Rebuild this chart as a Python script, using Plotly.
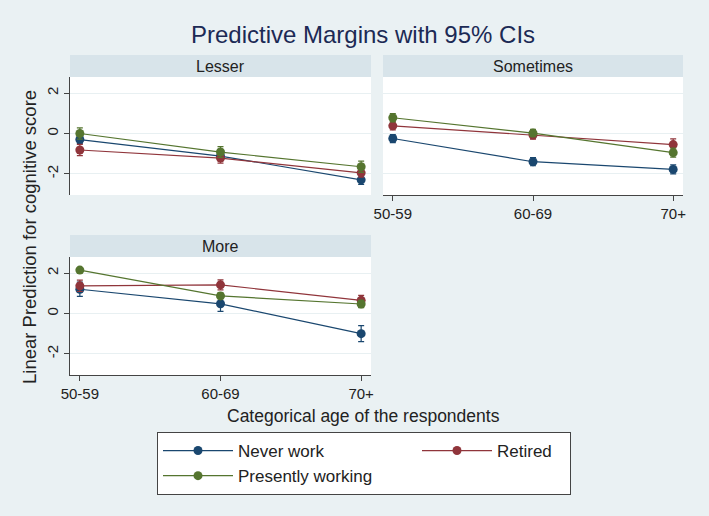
import plotly.graph_objects as go

# x categories
ages = ["50-59", "60-69", "70+"]
panels = ["Lesser", "Sometimes", "More"]
groups = ["Never work", "Retired", "Presently working"]

# predictive margins, one list per panel and group
lesser_never = [-0.30, -1.12, -2.30]
lesser_retired = [-0.82, -1.22, -1.95]
lesser_working = [0.00, -0.92, -1.65]
sometimes_never = [-0.25, -1.40, -1.78]
sometimes_retired = [0.38, -0.08, -0.55]
sometimes_working = [0.78, 0.02, -0.95]
more_never = [1.20, 0.48, -1.00]
more_retired = [1.37, 1.42, 0.65]
more_working = [2.15, 0.87, 0.47]

# half-widths of the 95% CIs
lesser_never_ci = [0.20, 0.20, 0.22]
lesser_retired_ci = [0.28, 0.25, 0.22]
lesser_working_ci = [0.28, 0.27, 0.28]
sometimes_never_ci = [0.20, 0.20, 0.22]
sometimes_retired_ci = [0.20, 0.20, 0.28]
sometimes_working_ci = [0.20, 0.18, 0.22]
more_never_ci = [0.35, 0.38, 0.40]
more_retired_ci = [0.28, 0.25, 0.25]
more_working_ci = [0.12, 0.15, 0.18]

ytick_vals = [-2, 0, 2]
ytick_text = ["-2", "0", "2"]

colors = ["#1A476F", "#90353B", "#55752F"]
bg = "#EAF1F3"
strip = "#D8E4EA"
W, H = 709, 516
ML, MR = 70, 26          # plot area spans the panels horizontally
PW = W - ML - MR

def px_x(x):
    return (x - ML) / PW

def px_y(y):
    return 1 - y / H

panel_data = [
    [(lesser_never, lesser_never_ci), (lesser_retired, lesser_retired_ci), (lesser_working, lesser_working_ci)],
    [(sometimes_never, sometimes_never_ci), (sometimes_retired, sometimes_retired_ci), (sometimes_working, sometimes_working_ci)],
    [(more_never, more_never_ci), (more_retired, more_retired_ci), (more_working, more_working_ci)],
]

# legend entry widths so that two entries sit on the first row
legend_widths = [174, 68, 174]

fig = go.Figure()
for p, series in enumerate(panel_data):
    ax = "" if p == 0 else str(p + 1)
    for g, (vals, ci) in enumerate(series):
        fig.add_trace(go.Scatter(
            x=ages, y=vals, name=groups[g],
            xaxis="x" + ax, yaxis="y" + ax,
            mode="lines+markers",
            line=dict(color=colors[g], width=1.2),
            marker=dict(color=colors[g], size=9),
            error_y=dict(type="data", array=ci, color=colors[g], thickness=1.2, width=3),
            showlegend=(p == 0), legendwidth=legend_widths[g],
        ))

left_col = (px_x(70), px_x(371))
right_col = (px_x(383), px_x(683))
top_row = (px_y(195), px_y(77))
bot_row = (px_y(375), px_y(257))

yr = [-3.05, 2.8]
xr = [-0.07, 2.07]
tickfont = dict(size=15, color="#222")

def xaxis(dom, anchor, show):
    return dict(domain=dom, anchor=anchor, type="category", range=xr,
                showgrid=False, zeroline=False, showline=show, linecolor="#444",
                ticks="outside" if show else "", ticklen=5, tickcolor="#444",
                showticklabels=show, tickfont=tickfont)

def yaxis(dom, anchor, show):
    return dict(domain=dom, anchor=anchor, range=yr, tickvals=ytick_vals, ticktext=ytick_text,
                showgrid=True, gridcolor="#E8F0F2", gridwidth=1, zeroline=False,
                showline=show, linecolor="#444", ticks="outside" if show else "",
                ticklen=5, tickcolor="#444", showticklabels=show,
                tickangle=-90, tickfont=tickfont)

fig.update_layout(
    xaxis=xaxis(left_col, "y", False), yaxis=yaxis(top_row, "x", True),
    xaxis2=xaxis(right_col, "y2", True), yaxis2=yaxis(top_row, "x2", False),
    xaxis3=xaxis(left_col, "y3", True), yaxis3=yaxis(bot_row, "x3", True),
)

shapes = []
annotations = []
strip_h = 22 / 118
for p, name in enumerate(panels):
    ax = "" if p == 0 else str(p + 1)
    shapes.append(dict(type="rect", xref="x" + ax + " domain", yref="y" + ax + " domain",
                       x0=0, x1=1, y0=1, y1=1 + strip_h, fillcolor=strip, line_width=0, layer="below"))
    annotations.append(dict(text=name, xref="x" + ax + " domain", yref="y" + ax + " domain",
                            x=0.5, y=1 + strip_h / 2, xanchor="center", yanchor="middle",
                            showarrow=False, font=dict(size=16, color="#222")))

annotations.append(dict(text="Categorical age of the respondents", xref="paper", yref="paper",
                        x=px_x(363), y=px_y(416), xanchor="center", yanchor="middle",
                        showarrow=False, font=dict(size=17.5, color="#222")))
annotations.append(dict(text="Linear Prediction for cognitive score", xref="paper", yref="paper",
                        x=px_x(30), y=px_y(237), xanchor="center", yanchor="middle",
                        textangle=-90, showarrow=False, font=dict(size=18.5, color="#222")))

fig.update_layout(
    width=W, height=H,
    margin=dict(l=ML, r=MR, t=0, b=0),
    paper_bgcolor=bg, plot_bgcolor="white",
    font=dict(family="Liberation Sans, Arial, sans-serif", color="#222"),
    title=dict(text="Predictive Margins with 95% CIs", x=363 / W, xanchor="center",
               y=1 - 35 / H, yanchor="middle", font=dict(size=24, color="#1C2A55")),
    shapes=shapes, annotations=annotations,
    legend=dict(orientation="h", x=px_x(157), y=px_y(432), xanchor="left", yanchor="top",
                bgcolor="white", bordercolor="#444", borderwidth=1,
                itemwidth=70, font=dict(size=17, color="#222"), tracegroupgap=0),
    showlegend=True,
)

# drop the page's default body margin so the figure fills the window
fig.write_html("out.html", config={"displayModeBar": False},
               post_script="document.body.style.margin = '0';")
